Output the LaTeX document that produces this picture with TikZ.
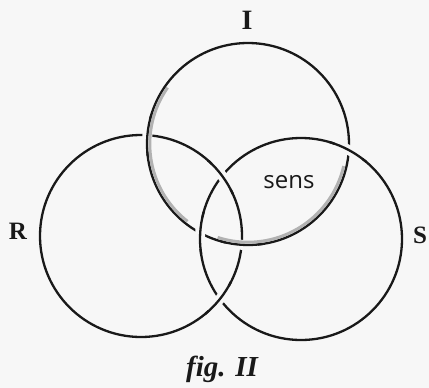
\documentclass[tikz,border=0pt]{standalone}
\usepackage{fontspec}
\setmainfont{Liberation Serif}
\setsansfont{Open Sans}
\usepackage{tikz}

\definecolor{paper}{gray}{0.97}
\definecolor{ink}{gray}{0.1}
\newcommand{\rad}{101}
% #1 centre of the ring that passes over, #2 angle of the crossing on it
\newcommand{\overpass}[2]{%
  \draw[gapcut] (#1) ++({#2-9}:\rad) arc[start angle={#2-9}, end angle={#2+9}, radius=\rad];
  \draw[ring] (#1) ++({#2-12}:\rad) arc[start angle={#2-12}, end angle={#2+12}, radius=\rad];}

\begin{document}
\begin{tikzpicture}[x=1pt, y=-1pt,
    ring/.style={draw=ink, line width=2.3pt},
    gapcut/.style={draw=paper, line width=10pt},
    shadow/.style={draw=gray!60, line width=3pt},
    letter/.style={font=\bfseries\fontsize{25}{28}\selectfont, text=ink, inner sep=0pt, anchor=base}]
  \fill[paper] (0,0) rectangle (429,388);
  \useasboundingbox (0,0) rectangle (429,388);
  \coordinate (cI) at (248,144);
  \coordinate (cR) at (141,236);
  \coordinate (cS) at (301,239);
  % the three rings
  \foreach \c in {cI,cR,cS}
    \draw[ring] (\c) circle[radius=\rad];
  % I over R, S over I, R over S
  \overpass{cI}{185.1}
  \overpass{cI}{93.6}
  \overpass{cS}{-61.7}
  \overpass{cS}{183.5}
  \overpass{cR}{-36.5}
  \overpass{cR}{38.7}
  % grey shadow inside ring I
  \draw[shadow] (cI) ++(128:98.2) arc[start angle=128, end angle=215, radius=98.2];
  \draw[shadow] (cI) ++(13:98.2) arc[start angle=13, end angle=108, radius=98.2];
  % labels
  \node[letter, font=\bfseries\fontsize{28}{30}\selectfont] (labI) at (247,30) {I};
  \node[letter] (labR) at (18,239) {R};
  \node[letter] (labS) at (420,243) {S};
  \node[font=\sffamily\fontsize{24}{26}\selectfont, text=ink, inner sep=0pt, anchor=base] (sens) at (289,188) {sens};
  \node[font=\bfseries\itshape\fontsize{29}{32}\selectfont, text=ink, inner sep=0pt, anchor=base] (caption) at (222,376) {fig. II};
\end{tikzpicture}
\end{document}
